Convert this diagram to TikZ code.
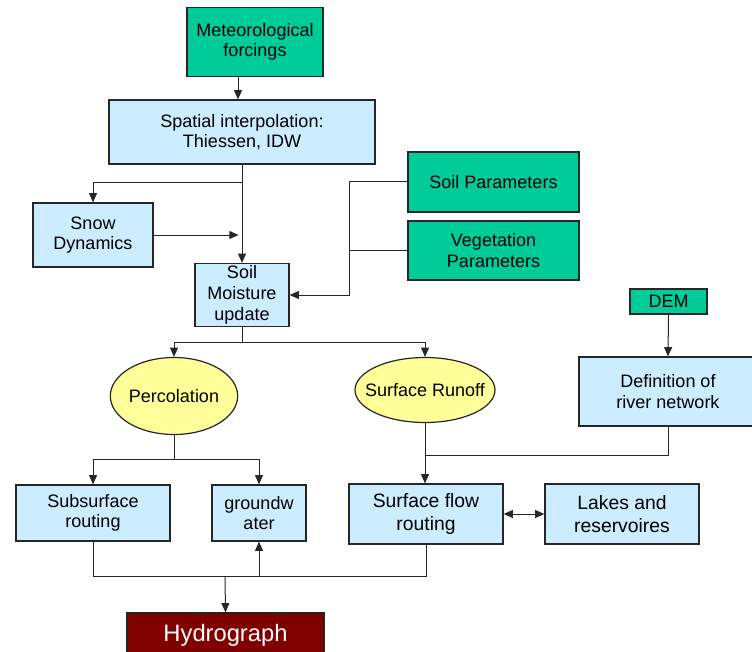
\documentclass[tikz,border=0pt]{standalone}
\usepackage{fontspec}
\setmainfont{Liberation Sans}
\usetikzlibrary{arrows.meta,shapes.geometric}
\definecolor{inputgreen}{HTML}{00CC99}
\definecolor{procblue}{HTML}{CCECFF}
\definecolor{ovalyellow}{HTML}{FFFF99}
\definecolor{hydrored}{HTML}{800000}
\tikzset{
  base/.style={draw=black!85, line width=0.9pt, align=center, inner sep=1pt,
    font=\fontsize{13.5}{15.5}\selectfont},
  box/.style={base, fill=procblue},
  inbox/.style={base, fill=inputgreen},
  oval/.style={base, ellipse, fill=ovalyellow},
  tip/.tip={Triangle[length=7pt,width=6pt]},
  arr/.style={-tip},
  link/.style={line width=0.75pt, draw=black!85}
}
\begin{document}
\begin{tikzpicture}[x=0.75pt, y=-0.75pt]
  \useasboundingbox (0,0) rectangle (752,652);
  % inputs
  \node[inbox, minimum width=102pt, minimum height=51.75pt] (met) at (255,42) {Meteorological\\forcings};
  \node[inbox, minimum width=128.25pt, minimum height=45pt] (soilp) at (493.5,182) {Soil Parameters};
  \node[inbox, minimum width=128.25pt, minimum height=44.25pt] (veg) at (493.5,250.5) {Vegetation\\Parameters};
  \node[inbox, minimum width=57.75pt, minimum height=18.75pt] (dem) at (668.5,301.5) {DEM};
  % processes
  \node[box, minimum width=199.5pt, minimum height=48pt] (spat) at (242,132) {Spatial interpolation:\\Thiessen, IDW};
  \node[box, minimum width=90pt, minimum height=48pt] (snow) at (93,235) {Snow\\Dynamics};
  \node[box, minimum width=70.5pt, minimum height=47.25pt] (soilm) at (242,295) {Soil\\Moisture\\update};
  \node[oval, inner xsep=0pt, minimum width=95.25pt, minimum height=57.75pt] (perc) at (174,396) {Percolation};
  \node[oval, inner xsep=-8pt, minimum width=105pt, minimum height=48.75pt] (runoff) at (425,390) {Surface Runoff};
  \node[box, minimum width=133.5pt, minimum height=51.75pt] (river) at (668,391.5) {Definition of\\river network};
  \node[box, minimum width=115.5pt, minimum height=42pt] (subs) at (93,513) {Subsurface\\routing};
  \node[box, minimum width=70.5pt, minimum height=42pt] (gw) at (259,513) {groundw\\ater};
  \node[box, minimum width=115.5pt, minimum height=45pt, font=\fontsize{14.5}{17}\selectfont] (sflow) at (426,514) {Surface flow\\routing};
  \node[box, minimum width=115.5pt, minimum height=45pt, font=\fontsize{14.5}{17}\selectfont] (lakes) at (622,514) {Lakes and\\reservoires};
  \node[base, fill=hydrored, text=white, minimum width=147.75pt, minimum height=33pt, font=\fontsize{17.8}{20}\selectfont] (hydro) at (225.5,635) {Hydrograph};
  % junctions
  \coordinate (j1) at (242,183);
  \coordinate (j2) at (349,182);
  \coordinate (j3) at (242,342);
  \coordinate (j4) at (174,459);
  \coordinate (j5) at (425,455);
  \coordinate (j6) at (225,576);
  % connectors
  \draw[link, arr] ([xshift=-12.75pt]met.south) -- ([xshift=-12.75pt]met.south |- spat.north);
  \draw[link, arr] (spat.south) -- (soilm.north);
  \draw[link, arr] (j1) -| (snow.north);
  \draw[link, arr] (snow.east) -- ++(85,0);
  \draw[link, arr] (soilp.west) -- (j2) |- (soilm.east);
  \draw[link] (veg.west) -- (j2 |- veg.west);
  \draw[link, arr] (dem.south) -- (river.north);
  \draw[link] (soilm.south) -- (j3);
  \draw[link, arr] (j3) -| (perc.north);
  \draw[link, arr] (j3) -| (runoff.north);
  \draw[link] (perc.south) -- (j4);
  \draw[link, arr] (j4) -| (subs.north);
  \draw[link, arr] (j4) -| (gw.north);
  \draw[link, arr] (runoff.south) -- (runoff.south |- sflow.north);
  \draw[link] (river.south) |- (j5);
  \draw[link, tip-tip] (sflow.east) -- (lakes.west);
  \draw[link] (subs.south) -- ++(0,35) -| (sflow.south);
  \draw[link, arr] (gw.south |- j6) -- (gw.south);
  \draw[link, arr] (j6) -- (hydro.north);
\end{tikzpicture}
\end{document}
